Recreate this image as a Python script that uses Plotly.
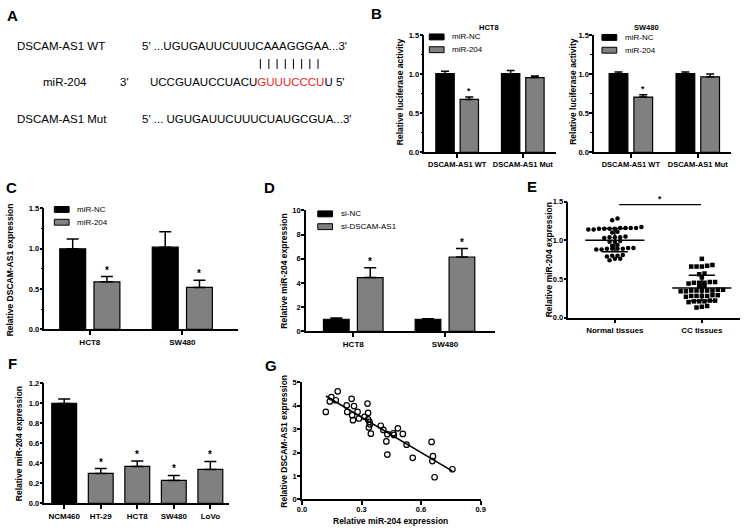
import numpy as np
import plotly.graph_objects as go

W, H = 753, 531
FONT = "Liberation Sans, Arial, sans-serif"
BLACK = "#000000"
GRAY = "#808080"
RED = "#f01e1e"

# ---------------- data ----------------
# Panel A (sequences)
a_wt_label = "DSCAM-AS1 WT"
a_wt_seq = "5' ...UGUGAUUCUUUCAAAGGGAA...3'"
a_mir_label = "miR-204"
a_mir_seq_5 = "3'"
a_mir_seq_a = "UCCGUAUCCUACU"
a_mir_seq_seed = "GUUUCCCU"
a_mir_seq_b = "U 5'"
a_mut_label = "DSCAM-AS1 Mut"
a_mut_seq = "5' ... UGUGAUUCUUUCUAUGCGUA...3'"

# Panel B (luciferase)
b_groups = ["DSCAM-AS1 WT", "DSCAM-AS1 Mut"]
b_series = ["miR-NC", "miR-204"]
b_hct8_nc = [1.01, 1.01]
b_hct8_nc_err = [0.03, 0.04]
b_hct8_204 = [0.68, 0.96]
b_hct8_204_err = [0.03, 0.02]
b_sw480_nc = [1.01, 1.01]
b_sw480_nc_err = [0.02, 0.02]
b_sw480_204 = [0.71, 0.97]
b_sw480_204_err = [0.03, 0.035]
b_sig = [True, False]
b_titles = ["HCT8", "SW480"]

# Panel C
c_groups = ["HCT8", "SW480"]
c_series = ["miR-NC", "miR-204"]
c_nc = [1.00, 1.02]
c_nc_err = [0.12, 0.19]
c_204 = [0.59, 0.52]
c_204_err = [0.065, 0.09]
c_sig = [True, True]

# Panel D
d_groups = ["HCT8", "SW480"]
d_series = ["si-NC", "si-DSCAM-AS1"]
d_nc = [1.00, 1.00]
d_nc_err = [0.10, 0.05]
d_si = [4.45, 6.15]
d_si_err = [0.80, 0.70]
d_sig = [True, True]

# Panel E
e_groups = ["Normal tissues", "CC tissues"]
e_normal = [1.28, 1.26,
            1.16, 1.15, 1.15, 1.14, 1.16, 1.17, 1.16, 1.15, 1.14, 1.15, 1.16,
            1.10, 1.11,
            1.05, 1.04, 1.04, 1.03, 1.04,
            0.98, 0.99, 0.98,
            0.93, 0.94,
            0.89, 0.90, 0.89, 0.88, 0.89, 0.90, 0.89, 0.88,
            0.80, 0.81, 0.80, 0.79,
            0.76, 0.74, 0.76]
e_cc = [0.76,
        0.66, 0.66, 0.67, 0.66, 0.68,
        0.57, 0.56,
        0.52,
        0.45, 0.46, 0.45, 0.46, 0.45, 0.44,
        0.41, 0.40,
        0.35, 0.36, 0.35, 0.34, 0.35, 0.36, 0.35, 0.34, 0.35,
        0.28, 0.29, 0.28, 0.28, 0.27, 0.29, 0.28,
        0.21, 0.22, 0.21, 0.20, 0.21, 0.22,
        0.14, 0.13, 0.15]

# Panel F
f_lines = ["NCM460", "HT-29", "HCT8", "SW480", "LoVo"]
f_vals = [1.00, 0.30, 0.37, 0.23, 0.34]
f_err = [0.045, 0.048, 0.055, 0.05, 0.08]
f_sig = [False, True, True, True, True]

# Panel G
g_mir = [0.120, 0.140, 0.148, 0.170, 0.180, 0.225, 0.228, 0.250, 0.253, 0.257,
         0.262, 0.280, 0.287, 0.315, 0.330, 0.333, 0.333, 0.340, 0.342, 0.337,
         0.347, 0.397, 0.410, 0.430, 0.425, 0.430, 0.460, 0.463, 0.483, 0.508,
         0.527, 0.558, 0.653, 0.660, 0.657, 0.668, 0.758]
g_dscam = [3.74, 4.19, 4.37, 4.24, 4.62, 4.02, 3.74, 4.30, 3.60, 3.39,
           3.99, 3.74, 3.46, 3.53, 4.10, 3.70, 3.42, 3.32, 3.21, 3.08,
           2.81, 3.15, 2.97, 2.79, 2.48, 1.92, 2.83, 2.76, 3.04, 2.80,
           2.34, 1.78, 2.46, 1.85, 1.64, 0.95, 1.29]

# ---------------- helpers ----------------
def PX(x):
    return x / W


def PY(y):
    return 1 - y / H


def font(size, bold=False, color=BLACK):
    d = dict(family=FONT, size=size, color=color)
    if bold:
        d["weight"] = "bold"
    return d


def axis(domain, rng, anchor, tsize=8, **kw):
    d = dict(domain=domain, range=rng, anchor=anchor, showline=True,
             linecolor=BLACK, linewidth=1.5, ticks="outside", ticklen=4,
             tickwidth=1.5, tickcolor=BLACK, showgrid=False, zeroline=False,
             tickfont=font(tsize, True), fixedrange=True)
    d.update(kw)
    return d


def yaxis(domain, rng, anchor, tsize=7.5, **kw):
    return axis(domain, rng, anchor, tsize, ticklen=3, ticklabelstandoff=-1, **kw)


MINOR = dict(ticks="outside", ticklen=2, tickwidth=1.2, tickcolor=BLACK)

fig = go.Figure()
annotations = []
shapes = []

OFF = 0.185
BW = 0.28


def add_bars(xa, ya, xs, vals, errs, color, width, capw, name):
    fig.add_trace(go.Bar(
        x=xs, y=vals, xaxis=xa, yaxis=ya, width=width, name=name,
        marker=dict(color=color, line=dict(color=BLACK, width=1.2)),
        error_y=dict(type="data", array=errs, arrayminus=[0] * len(errs),
                     symmetric=False, color=BLACK, thickness=1.5, width=capw),
        showlegend=False))


def add_star(xa, ya, x, y, size=10):
    annotations.append(dict(xref=xa, yref=ya, x=x, y=y, text="*", showarrow=False,
                            xanchor="center", yanchor="bottom", yshift=-1,
                            font=font(size, True)))


def add_legend(x0, y0, labels, colors, dy=13, size=8):
    for i, (lab, col) in enumerate(zip(labels, colors)):
        yc = y0 + i * dy
        shapes.append(dict(type="rect", xref="paper", yref="paper",
                           x0=PX(x0), x1=PX(x0 + 15), y0=PY(yc - 3), y1=PY(yc + 3),
                           fillcolor=col, line=dict(color=BLACK, width=1)))
        annotations.append(dict(xref="paper", yref="paper", x=PX(x0 + 21), y=PY(yc),
                                text=lab, showarrow=False, xanchor="left",
                                yanchor="middle", font=font(size)))


def ytitle(x, y, text, size=8.5):
    annotations.append(dict(xref="paper", yref="paper", x=PX(x), y=PY(y), text=text,
                            showarrow=False, textangle=-90, xanchor="center",
                            yanchor="middle", font=font(size, True)))


# ---------------- Panel B ----------------
for k, (xa, ya, nc, nce, mr, mre) in enumerate([
        ("x", "y", b_hct8_nc, b_hct8_nc_err, b_hct8_204, b_hct8_204_err),
        ("x2", "y2", b_sw480_nc, b_sw480_nc_err, b_sw480_204, b_sw480_204_err)]):
    idx = np.arange(len(b_groups))
    add_bars(xa, ya, idx - OFF, nc, nce, BLACK, BW, 4, b_series[0])
    add_bars(xa, ya, idx + OFF, mr, mre, GRAY, BW, 4, b_series[1])
    for i, s in enumerate(b_sig):
        if s:
            add_star(xa, ya, i + OFF, mr[i] + mre[i], 8.5)

# ---------------- Panel C ----------------
idx = np.arange(len(c_groups))
add_bars("x3", "y3", idx - OFF, c_nc, c_nc_err, BLACK, BW, 6, c_series[0])
add_bars("x3", "y3", idx + OFF, c_204, c_204_err, GRAY, BW, 6, c_series[1])
for i, s in enumerate(c_sig):
    if s:
        add_star("x3", "y3", i + OFF, c_204[i] + c_204_err[i])

# ---------------- Panel D ----------------
idx = np.arange(len(d_groups))
add_bars("x4", "y4", idx - OFF, d_nc, d_nc_err, BLACK, BW, 6, d_series[0])
add_bars("x4", "y4", idx + OFF, d_si, d_si_err, GRAY, BW, 6, d_series[1])
for i, s in enumerate(d_sig):
    if s:
        add_star("x4", "y4", i + OFF, d_si[i] + d_si_err[i])

# ---------------- Panel E ----------------
def swarm(vals, center, spacing, tol=0.035):
    vals = np.asarray(vals, dtype=float)
    order = np.argsort(vals, kind="stable")
    xs = np.zeros(len(vals))
    rows, cur = [], [order[0]]
    for i in order[1:]:
        if vals[i] - vals[cur[0]] < tol:
            cur.append(i)
        else:
            rows.append(cur)
            cur = [i]
    rows.append(cur)
    for r in rows:
        n = len(r)
        for k, j in enumerate(r):
            xs[j] = center + (k - (n - 1) / 2) * spacing
    return xs


SP = 0.061
for gi, (vals, sym) in enumerate([(e_normal, "circle"), (e_cc, "square")]):
    c = gi + 1
    fig.add_trace(go.Scatter(x=swarm(vals, c, SP), y=vals, xaxis="x5", yaxis="y5",
                             mode="markers", name=e_groups[gi],
                             marker=dict(symbol=sym, size=4.5, color=BLACK, line=dict(width=0)),
                             showlegend=False, cliponaxis=False))
    m = float(np.mean(vals))
    sd = float(np.std(vals, ddof=1))
    lx = [c - 0.34, c + 0.34, None, c, c, None, c - 0.15, c + 0.15, None, c - 0.15, c + 0.15]
    ly = [m, m, None, m - sd, m + sd, None, m + sd, m + sd, None, m - sd, m - sd]
    fig.add_trace(go.Scatter(x=lx, y=ly, xaxis="x5", yaxis="y5", mode="lines",
                             line=dict(color=BLACK, width=1.5), showlegend=False,
                             hoverinfo="skip"))

shapes.append(dict(type="line", xref="x5", yref="y5", x0=1.05, x1=1.99, y0=1.46, y1=1.46,
                   line=dict(color=BLACK, width=1.2)))
annotations.append(dict(xref="x5", yref="y5", x=1.52, y=1.46, text="*", showarrow=False,
                        xanchor="center", yanchor="bottom", yshift=-1, font=font(8.5, True)))

# ---------------- Panel F ----------------
fidx = np.arange(len(f_lines))
fig.add_trace(go.Bar(
    x=fidx, y=f_vals, xaxis="x6", yaxis="y6", width=0.68,
    marker=dict(color=[BLACK] + [GRAY] * (len(f_lines) - 1), line=dict(color=BLACK, width=1.2)),
    error_y=dict(type="data", array=f_err, arrayminus=[0] * len(f_err), symmetric=False,
                 color=BLACK, thickness=1.5, width=6),
    showlegend=False))
for i, s in enumerate(f_sig):
    if s:
        add_star("x6", "y6", i, f_vals[i] + f_err[i])

# ---------------- Panel G ----------------
fig.add_trace(go.Scatter(x=g_mir, y=g_dscam, xaxis="x7", yaxis="y7", mode="markers",
                         marker=dict(symbol="circle-open", size=5.5, color=BLACK,
                                     line=dict(width=1.2, color=BLACK)),
                         showlegend=False, cliponaxis=False))
slope, icpt = np.polyfit(g_mir, g_dscam, 1)
gx = np.array([min(g_mir), max(g_mir)])
fig.add_trace(go.Scatter(x=gx, y=slope * gx + icpt, xaxis="x7", yaxis="y7", mode="lines",
                         line=dict(color=BLACK, width=1.5), showlegend=False))

# ---------------- Panel A text ----------------
SEQ = 11.5
# Arial / Liberation Sans advance widths (em) for the letters used in the pairing
EM = {"U": 0.722, "C": 0.722, "G": 0.778, "A": 0.667}


def atext(x, y, text, color=BLACK):
    annotations.append(dict(xref="paper", yref="paper", x=PX(x), y=PY(y), text=text,
                            showarrow=False, xanchor="left", yanchor="middle",
                            font=font(SEQ, False, color)))


MIR_X = 145
atext(10, 43, a_wt_label)
atext(137, 43, a_wt_seq)
# pairing bars over the centre of each seed letter
pos = MIR_X + 2 + sum(EM[ch] for ch in a_mir_seq_a) * SEQ
for ch in a_mir_seq_seed:
    w = EM[ch] * SEQ
    shapes.append(dict(type="line", xref="paper", yref="paper", x0=PX(pos + w / 2),
                       x1=PX(pos + w / 2), y0=PY(56), y1=PY(66),
                       line=dict(color=BLACK, width=1)))
    pos += w
atext(36, 79, a_mir_label)
atext(115, 79, a_mir_seq_5)
atext(MIR_X, 79, a_mir_seq_a + '<span style="color:' + RED + '">' + a_mir_seq_seed +
      '</span>' + a_mir_seq_b)
atext(10, 117, a_mut_label)
atext(137, 117, a_mut_seq)

# ---------------- panel letters ----------------
for letter, x, y in [("A", 8, 12), ("B", 376, 10), ("C", 7, 187), ("D", 268, 187),
                     ("E", 534, 186), ("F", 8, 366), ("G", 270, 368)]:
    annotations.append(dict(xref="paper", yref="paper", x=PX(x), y=PY(y), text=letter,
                            showarrow=False, xanchor="center", yanchor="middle",
                            font=font(15, True)))

# ---------------- titles / legends ----------------
annotations.append(dict(xref="paper", yref="paper", x=PX(491), y=PY(17), text=b_titles[0],
                        showarrow=False, font=font(7.5, True)))
annotations.append(dict(xref="paper", yref="paper", x=PX(665), y=PY(17), text=b_titles[1],
                        showarrow=False, font=font(7.5, True)))

add_legend(430, 33.5, b_series, [BLACK, GRAY])
add_legend(605, 34, b_series, [BLACK, GRAY])
add_legend(50, 209, c_series, [BLACK, GRAY])
add_legend(317, 213.5, d_series, [BLACK, GRAY])

ytitle(401, 89, "Relative luciferase activity")
ytitle(576, 89, "Relative luciferase activity")
ytitle(5, 270, "Relative DSCAM-AS1 expression")
ytitle(283, 272, "Relative miR-204 expression")
ytitle(551, 260, "Relative miR-204 expression")
ytitle(15, 447, "Relative miR-204 expression")
ytitle(283, 445, "Relative DSCAM-AS1 expression")
annotations.append(dict(xref="paper", yref="paper", x=PX(391), y=PY(526),
                        text="Relative miR-204 expression", showarrow=False,
                        xanchor="center", yanchor="middle", font=font(8.5, True)))

# ---------------- layout ----------------
tick2 = dict(tickmode="array", tickvals=list(range(2)))
fig.update_layout(
    width=W, height=H, margin=dict(l=0, r=0, t=0, b=0),
    paper_bgcolor="white", plot_bgcolor="white", barmode="overlay",
    showlegend=False, font=font(8),
    xaxis=axis([PX(425), PX(558)], [-0.5, 1.5], "y", 7.5, ticktext=b_groups, **tick2),
    yaxis=yaxis([PY(151), PY(32)], [0, 1.5], "x", tickformat=".1f", dtick=0.5,
                minor=dict(dtick=0.25, **MINOR)),
    xaxis2=axis([PX(597), PX(736)], [-0.55, 1.5], "y2", 7.5, ticktext=b_groups, **tick2),
    yaxis2=yaxis([PY(151), PY(32)], [0, 1.5], "x2", tickformat=".1f", dtick=0.5,
                 minor=dict(dtick=0.25, **MINOR)),
    xaxis3=axis([PX(40), PX(236)], [-0.49, 1.6], "y3", 8, ticktext=c_groups, **tick2),
    yaxis3=yaxis([PY(331), PY(208)], [0, 1.5], "x3", tickformat=".1f", dtick=0.5,
                 minor=dict(dtick=0.25, **MINOR)),
    xaxis4=axis([PX(305), PX(497)], [-0.516, 1.55], "y4", 8, ticktext=d_groups, **tick2),
    yaxis4=yaxis([PY(333), PY(210)], [0, 10], "x4", dtick=2),
    xaxis5=axis([PX(571), PX(745)], [0.466, 2.44], "y5", 8, tickmode="array",
                tickvals=[1, 2], ticktext=e_groups),
    yaxis5=yaxis([PY(319), PY(201)], [0, 1.5], "x5", tickformat=".1f", dtick=0.5),
    xaxis6=axis([PX(40), PX(227)], [-0.54, 4.51], "y6", 8, tickmode="array",
                tickvals=list(range(len(f_lines))), ticktext=f_lines),
    yaxis6=yaxis([PY(508), PY(386)], [0, 1.2], "x6", tickformat=".1f", dtick=0.2),
    xaxis7=axis([PX(301), PX(482)], [0, 0.9], "y7", 7.5, tickformat=".1f", dtick=0.3,
                ticklabelstandoff=-2),
    yaxis7=yaxis([PY(504), PY(385)], [0, 5], "x7", dtick=1),
    annotations=annotations, shapes=shapes,
)

fig.write_html("out.html", config={"displayModeBar": False},
               post_script="document.body.style.margin='0';")
